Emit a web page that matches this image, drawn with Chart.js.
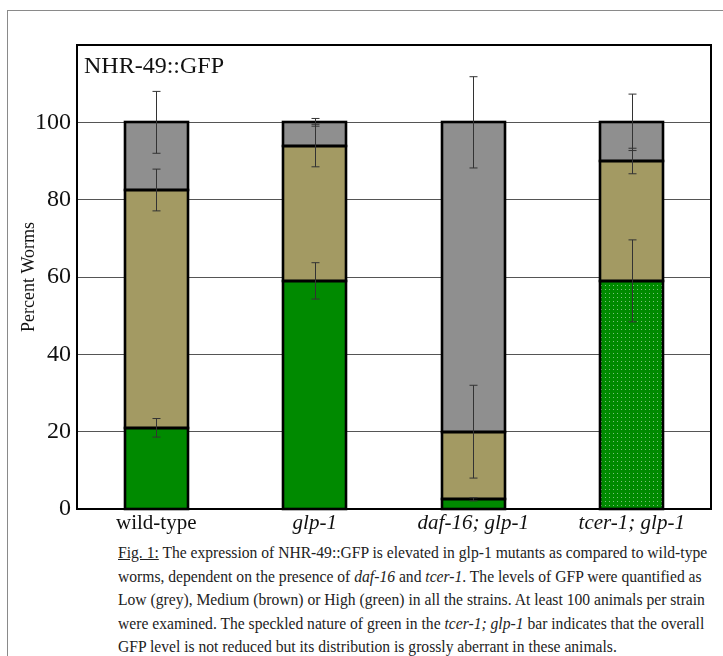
<!DOCTYPE html>
<html>
<head>
<meta charset="utf-8">
<script src="https://cdn.jsdelivr.net/npm/chart.js@4.4.0/dist/chart.umd.min.js"></script>
<style>
  html, body { margin: 0; padding: 0; background: #fff; width: 723px; height: 656px; overflow: hidden; }
  #frame { position: absolute; left: 7px; top: 10px; width: 760px; height: 700px; border-left: 1.5px solid #8a8a8a; border-top: 1.5px solid #8a8a8a; }
  #wrap { position: absolute; left: 0; top: 0; width: 723px; height: 540px; }
  #caption {
    position: absolute; left: 118px; top: 541px; width: 660px;
    font-family: "Liberation Serif", "Times New Roman", serif; font-size: 16.5px; line-height: 23.5px;
    color: #222; white-space: nowrap;
    transform: scaleX(0.946); transform-origin: 0 0;
  }
</style>
</head>
<body>
<div id="frame"></div>
<div id="wrap"><canvas id="chart" width="723" height="540"></canvas></div>
<div id="caption">
<u>Fig. 1:</u> The expression of NHR-49::GFP is elevated in glp-1 mutants as compared to wild-type<br>
worms, dependent on the presence of <i>daf-16</i> and <i>tcer-1</i>. The levels of GFP were quantified as<br>
Low (grey), Medium (brown) or High (green) in all the strains. At least 100 animals per strain<br>
were examined. The speckled nature of green in the <i>tcer-1; glp-1</i> bar indicates that the overall<br>
GFP level is not reduced but its distribution is grossly aberrant in these animals.
</div>
<script>
// --- data ---
const strains = ['wild-type', 'glp-1', 'daf-16; glp-1', 'tcer-1; glp-1'];
const highPct = [21, 59, 2.5, 59];
const mediumPct = [61.5, 35, 17.5, 31];
const lowPct = [17.5, 6, 80, 10];
// +/- error at the top of each segment
const highErr = [2.4, 4.7, 0.4, 10.6];
const mediumErr = [5.4, 5.5, 12, 3.3];
const lowErr = [8, 1, 11.8, 7.3];
const yTicks = [0, 20, 40, 60, 80, 100];

const GREEN = '#008a00';
const BROWN = '#a39a63';
const GREY = '#8f8f8f';
const SERIF = '"Liberation Serif", "Times New Roman", serif';

// speckled green for the tcer-1 bar
function speckle() {
    const c = document.createElement('canvas');
    c.width = 4; c.height = 4;
    const g = c.getContext('2d');
    g.fillStyle = GREEN;
    g.fillRect(0, 0, 4, 4);
    g.fillStyle = '#7cc27c';
    g.fillRect(1, 1, 1, 1);
    return g.createPattern(c, 'repeat');
}
const speckGreen = speckle();

// black outlines centred on the segment edges, then the error bars
const barDecor = {
    id: 'barDecor',
    afterDatasetsDraw(chart) {
        const ctx = chart.ctx;
        const y = chart.scales.y;
        const errs = [highErr, mediumErr, lowErr];
        ctx.save();
        ctx.strokeStyle = '#000';
        ctx.lineWidth = 2.6;
        chart.data.datasets.forEach((ds, di) => {
            chart.getDatasetMeta(di).data.forEach(bar => {
                const l = Math.round(bar.x - bar.width / 2);
                const r = Math.round(bar.x + bar.width / 2);
                const t = Math.round(bar.y), b = Math.round(bar.base);
                ctx.strokeRect(l, t, r - l, b - t);
            });
        });
        ctx.strokeStyle = '#333';
        ctx.lineWidth = 1;
        chart.data.datasets.forEach((ds, di) => {
            chart.getDatasetMeta(di).data.forEach((bar, i) => {
                const top = y.getValueForPixel(bar.y);
                const e = errs[di][i];
                const y1 = y.getPixelForValue(top + e);
                const y2 = y.getPixelForValue(top - e);
                const x = Math.round(bar.x) + 0.5;
                ctx.beginPath();
                ctx.moveTo(x, y1); ctx.lineTo(x, y2);
                ctx.moveTo(x - 4, y1); ctx.lineTo(x + 4, y1);
                ctx.moveTo(x - 4, y2); ctx.lineTo(x + 4, y2);
                ctx.stroke();
            });
        });
        ctx.restore();
    }
};

const frameBox = {
    id: 'frameBox',
    afterDraw(chart) {
        const { left, top, right, bottom } = chart.chartArea;
        const ctx = chart.ctx;
        ctx.save();
        ctx.strokeStyle = '#000';
        ctx.lineWidth = 2;
        ctx.strokeRect(left, top, right - left, bottom - top);
        ctx.fillStyle = '#111';
        ctx.font = '24px ' + SERIF;
        ctx.textBaseline = 'alphabetic';
        ctx.textAlign = 'left';
        ctx.fillText('NHR-49::GFP', left + 7, 73);
        ctx.restore();
    }
};

new Chart(document.getElementById('chart'), {
    type: 'bar',
    data: {
        labels: strains,
        datasets: [
            { label: 'High', data: highPct, backgroundColor: [GREEN, GREEN, GREEN, speckGreen] },
            { label: 'Medium', data: mediumPct, backgroundColor: BROWN },
            { label: 'Low', data: lowPct, backgroundColor: GREY }
        ].map(d => ({ ...d, borderWidth: 0, categoryPercentage: 1, barPercentage: 0.4 }))
    },
    options: {
        responsive: false,
        animation: false,
        layout: { padding: { top: 45, right: 12, bottom: 0, left: 0 } },
        plugins: { legend: { display: false }, tooltip: { enabled: false } },
        scales: {
            x: {
                stacked: true,
                grid: { display: false, drawTicks: false },
                border: { display: false },
                afterFit: s => { s.height = 31; },
                ticks: {
                    color: '#111', padding: 2, maxRotation: 0,
                    font: c => ({ family: SERIF, size: 21, style: c.index > 0 ? 'italic' : 'normal' })
                }
            },
            y: {
                stacked: true,
                min: 0, max: 120,
                afterFit: s => { s.width = 77; },
                afterBuildTicks: s => { s.ticks = yTicks.concat([120]).map(v => ({ value: v })); },
                grid: { color: '#555', lineWidth: 1, drawTicks: false },
                border: { display: false },
                ticks: {
                    color: '#111', padding: 6,
                    font: { family: SERIF, size: 24 },
                    callback: v => (v > 100 ? '' : v)
                },
                title: {
                    display: true, text: 'Percent Worms', color: '#111',
                    font: { family: SERIF, size: 18 },
                    padding: { top: 18, bottom: 0 }
                }
            }
        }
    },
    plugins: [barDecor, frameBox]
});
</script>
</body>
</html>
